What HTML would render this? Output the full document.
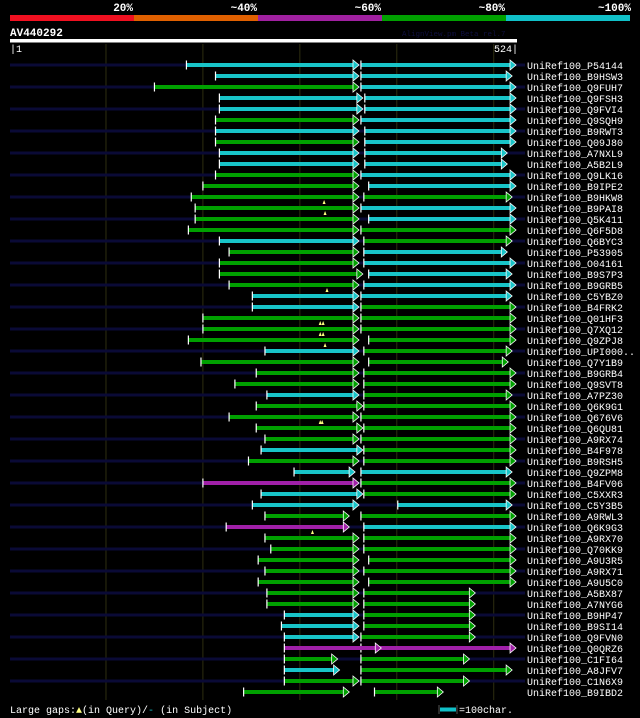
<!DOCTYPE html>
<html><head><meta charset="utf-8"><style>
html,body{margin:0;padding:0;background:#000;}
svg{display:block;font-family:"Liberation Mono",monospace;}
</style></head><body>
<svg id="chart" width="640" height="718" viewBox="0 0 640 718" xmlns="http://www.w3.org/2000/svg">
<rect x="0" y="0" width="640" height="718" fill="#000"/>
<g>
<rect x="10" y="15" width="124" height="6" fill="#f01020"/>
<rect x="134" y="15" width="124" height="6" fill="#e06000"/>
<rect x="258" y="15" width="124" height="6" fill="#a020a0"/>
<rect x="382" y="15" width="124" height="6" fill="#00a000"/>
<rect x="506" y="15" width="124" height="6" fill="#10c0c8"/>
<text x="133" y="11" fill="#fff" font-size="11" font-weight="bold" text-anchor="end">20%</text>
<text x="257" y="11" fill="#fff" font-size="11" font-weight="bold" text-anchor="end">~40%</text>
<text x="381" y="11" fill="#fff" font-size="11" font-weight="bold" text-anchor="end">~60%</text>
<text x="505" y="11" fill="#fff" font-size="11" font-weight="bold" text-anchor="end">~80%</text>
<text x="631" y="11" fill="#fff" font-size="11" font-weight="bold" text-anchor="end">~100%</text>
</g>
<text x="10" y="36" fill="#fff" font-size="11" font-weight="bold">AV440292</text>
<text x="402" y="36" fill="#101040" font-size="7.5">AlignView.pm Beta rel.7</text>
<rect x="10" y="39" width="507" height="3.5" fill="#fff"/>
<g id="grid"></g>
<text x="10" y="52" fill="#fff" font-size="10">|1</text>
<text x="518" y="52" fill="#fff" font-size="10" text-anchor="end">524|</text>
<g id="rows"></g>
<g>
<text x="10" y="713" fill="#fff" font-size="10">Large gaps:<tspan fill="#ffff80">▲</tspan>(in Query)/<tspan fill="#10c0c8">-</tspan> (in Subject)</text>
<line x1="439" y1="705" x2="439" y2="714" stroke="#555"/>
<rect x="440" y="707.5" width="16" height="4" fill="#10c0c8"/>
<line x1="457" y1="705" x2="457" y2="714" stroke="#555"/>
<text x="459" y="713" fill="#fff" font-size="10">=100char.</text>
</g>
</svg>
<script>
const names = ["P54144","B9HSW3","Q9FUH7","Q9FSH3","Q9FVI4","Q9SQH9","B9RWT3","Q09J80","A7NXL9","A5B2L9","Q9LK16","B9IPE2","B9HKW8","B9PAI8","Q5K411","Q6F5D8","Q6BYC3","P53905","O04161","B9S7P3","B9GRB5","C5YBZ0","B4FRK2","Q01HF3","Q7XQ12","Q9ZPJ8","UPI000..","Q7Y1B9","B9GRB4","Q9SVT8","A7PZ30","Q6K9G1","Q676V6","Q6QU81","A9RX74","B4F978","B9RSH5","Q9ZPM8","B4FV06","C5XXR3","C5Y3B5","A9RWL3","Q6K9G3","A9RX70","Q70KK9","A9U3R5","A9RX71","A9U5C0","A5BX87","A7NYG6","B9HP47","B9SI14","Q9FVN0","Q0QRZ6","C1FI64","A8JFV7","C1N6X9","B9IBD2"];
const seg1Start = [183,213,150,217,217,213,213,213,217,217,213,200,188,192,192,185,217,227,217,217,227,251,251,200,200,185,264,198,255,233,266,255,227,255,264,260,247,294,200,260,251,264,224,264,270,257,264,257,266,266,284,281,284,284,284,284,284,242];
const seg1End = [361,361,361,365,365,361,361,361,361,361,361,361,361,361,361,361,361,361,361,365,361,361,361,361,361,361,361,361,361,361,361,365,361,365,361,365,361,357,361,365,361,351,351,361,361,361,361,361,361,361,361,361,361,384,339,341,361,351];
const seg1Color = ["c","c","g","c","c","g","c","g","c","c","g","g","g","g","g","g","c","g","g","g","g","c","c","g","g","g","c","g","g","g","c","g","g","g","g","c","g","c","m","c","c","g","m","g","g","g","g","g","g","g","c","c","c","m","g","c","g","g"];
const seg2Start = [363,363,363,367,367,363,367,367,367,367,363,371,366,363,371,363,366,366,366,371,366,363,363,363,363,371,366,371,366,366,366,366,363,366,363,366,366,363,363,366,401,363,366,366,366,371,366,371,366,366,366,366,363,363,363,363,363,377];
const seg2End = [523,519,523,523,523,523,523,523,514,514,523,523,519,523,523,523,519,514,523,519,523,519,523,523,523,523,519,515,523,523,519,523,523,523,523,523,523,519,523,523,519,523,523,523,523,523,523,523,481,481,481,481,481,523,475,519,475,448];
const seg2Color = ["c","c","c","c","c","c","c","c","c","c","c","c","g","c","c","g","g","c","c","c","c","c","g","g","g","g","g","g","g","g","g","g","g","g","g","g","g","c","g","g","c","g","c","g","g","g","g","g","g","g","g","g","g","m","g","g","g","g"];
const hasDark = [1,0,1,0,1,0,1,0,1,0,1,0,1,0,1,0,1,0,1,0,1,0,1,0,1,0,1,0,1,0,1,0,1,0,1,0,1,0,1,0,1,0,1,0,1,0,1,0,1,0,1,0,1,0,1,0,1,0];
const gapRows = [12,13,20,23,23,24,24,25,32,32,42];
const gapPos = [325,326,328,321,324,321,324,326,321,323,313];
const gridPos = [100,200,300,400,500];

const NS = "http://www.w3.org/2000/svg";
const colors = {c:"#18c4c8", g:"#00a000", m:"#a020a8"};
function xs(p){ return 10 + (p-1)*507/523; }
function ys(i){ return 65 + i*11; }
function mk(tag, attrs, parent){
  const e = document.createElementNS(NS, tag);
  for (const k in attrs) e.setAttribute(k, attrs[k]);
  parent.appendChild(e);
  return e;
}
const grid = document.getElementById("grid");
gridPos.forEach(function(p){
  const l = mk("line", {x1:xs(p), x2:xs(p), y1:44, y2:700, stroke:"#2e2e10", "stroke-width":1}, grid);
  
  
});
const rows = document.getElementById("rows");
function seg(g, s, e, col, name){
  const x1 = xs(s), x2 = xs(e), y = 0;
  const r = mk("rect", {x:x1, y:-2, width:Math.max(0, x2-x1-5), height:4, fill:colors[col]}, g);
  
  
  const t = mk("line", {x1:x1, x2:x1, y1:-4.5, y2:4.5, stroke:"#fff", "stroke-width":1.2}, g);
  
  
  const a = mk("path", {d:"M"+(x2-6)+",-5 L"+x2+",0 L"+(x2-6)+",5 Z", fill:colors[col], stroke:"#fff", "stroke-width":0.8}, g);
  
  
}
names.forEach(function(n, i){
  const g = mk("g", {transform:"translate(0,"+ys(i)+")"}, rows);
  
  
  if (hasDark[i]) {
    const d = mk("rect", {x:10, y:-1.5, width:515, height:3, fill:"#0a0a36"}, g);
    
    
  }
  seg(g, seg2Start[i], seg2End[i], seg2Color[i], 'hsp2');
  seg(g, seg1Start[i], seg1End[i], seg1Color[i], 'hsp1');
  const t = mk("text", {x:527, y:4, fill:"#fff", "font-size":10}, g);
  t.textContent = "UniRef100_" + n;
  
  
});
gapRows.forEach(function(r, k){
  const x = xs(gapPos[k]), y = ys(r) + 3;
  const m = mk("path", {d:"M"+(x-1.5)+","+(y+4)+" L"+x+","+y+" L"+(x+1.5)+","+(y+4)+" Z", fill:"#ffff80"}, rows);
  
  
});
</script>
</body></html>
